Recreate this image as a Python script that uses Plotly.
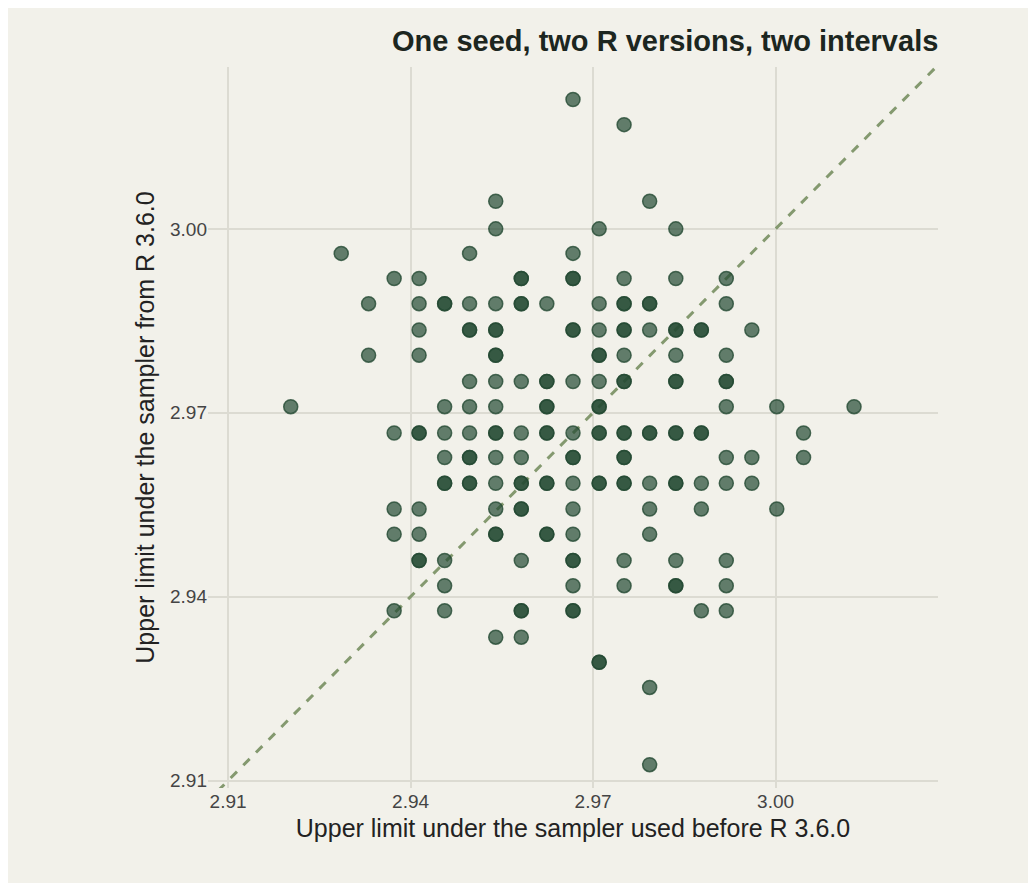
import plotly.graph_objects as go

# upper limits: one x value per column, y values in that column
# (a value listed twice is two overlapping points)
col_x = [2.9203, 2.9286, 2.9331, 2.9373, 2.9414, 2.9456, 2.9497, 2.9540, 2.9582, 2.9624, 2.9667,
         2.9710, 2.9751, 2.9793, 2.9836, 2.9878, 2.9919, 2.9961, 3.0002, 3.0046, 3.0129]
col_y = [
    [2.9710],
    [2.9960],
    [2.9878, 2.9794],
    [2.9919, 2.9667, 2.9543, 2.9502, 2.9377],
    [2.9919, 2.9878, 2.9835, 2.9794, 2.9667, 2.9667, 2.9543, 2.9502, 2.9459, 2.9459],
    [2.9878, 2.9878, 2.9710, 2.9667, 2.9627, 2.9585, 2.9585, 2.9459, 2.9418, 2.9377],
    [2.9960, 2.9878, 2.9835, 2.9835, 2.9751, 2.9710, 2.9667, 2.9627, 2.9627, 2.9585, 2.9585],
    [3.0045, 3.0000, 2.9878, 2.9835, 2.9835, 2.9794, 2.9794, 2.9751, 2.9710, 2.9667, 2.9667,
     2.9627, 2.9585, 2.9543, 2.9502, 2.9502, 2.9334],
    [2.9919, 2.9919, 2.9878, 2.9878, 2.9751, 2.9667, 2.9627, 2.9585, 2.9585, 2.9543, 2.9543,
     2.9459, 2.9377, 2.9377, 2.9334],
    [2.9878, 2.9751, 2.9751, 2.9710, 2.9710, 2.9667, 2.9667, 2.9585, 2.9585, 2.9502, 2.9502],
    [3.0211, 2.9960, 2.9919, 2.9919, 2.9835, 2.9835, 2.9751, 2.9667, 2.9627, 2.9627, 2.9585,
     2.9543, 2.9502, 2.9459, 2.9459, 2.9418, 2.9377, 2.9377],
    [3.0000, 2.9878, 2.9835, 2.9794, 2.9794, 2.9751, 2.9710, 2.9710, 2.9667, 2.9667, 2.9585,
     2.9585, 2.9293, 2.9293],
    [3.0170, 2.9919, 2.9878, 2.9878, 2.9835, 2.9835, 2.9794, 2.9751, 2.9751, 2.9667, 2.9667,
     2.9627, 2.9627, 2.9585, 2.9585, 2.9459, 2.9418],
    [3.0045, 2.9878, 2.9878, 2.9835, 2.9667, 2.9667, 2.9585, 2.9543, 2.9502, 2.9252, 2.9126],
    [3.0000, 2.9919, 2.9835, 2.9835, 2.9794, 2.9751, 2.9751, 2.9667, 2.9667, 2.9585, 2.9585,
     2.9459, 2.9418, 2.9418],
    [2.9835, 2.9835, 2.9667, 2.9667, 2.9585, 2.9543, 2.9377],
    [2.9919, 2.9878, 2.9794, 2.9751, 2.9751, 2.9710, 2.9627, 2.9585, 2.9459, 2.9418, 2.9377],
    [2.9835, 2.9627, 2.9585],
    [2.9710, 2.9543],
    [2.9667, 2.9627],
    [2.9710],
]
tick_vals = [2.91, 2.94, 2.97, 3.00]
tick_text = ["2.91", "2.94", "2.97", "3.00"]

xs, ys = [], []
for x, col in zip(col_x, col_y):
    for y in col:
        xs.append(x)
        ys.append(y)

bg = "#f2f1ea"
fig = go.Figure()
fig.add_trace(go.Scatter(x=[2.90, 3.03], y=[2.90, 3.03], mode="lines",
                         line=dict(color="#84996f", width=3, dash="dash"), hoverinfo="skip"))
fig.add_trace(go.Scatter(x=xs, y=ys, mode="markers",
                         marker=dict(size=14, color="rgba(36,74,51,0.7)",
                                     line=dict(color="rgba(36,74,51,0.8)", width=1.5))))

axis = dict(tickvals=tick_vals, ticktext=tick_text, showgrid=True, gridcolor="#dcdbd2",
            gridwidth=2, zeroline=False, showline=False, ticks="",
            tickfont=dict(size=19, color="#444444"))
fig.update_layout(
    width=1036, height=883, showlegend=False,
    paper_bgcolor=bg, plot_bgcolor=bg,
    font=dict(family="Liberation Sans, Arial, sans-serif", color="#222"),
    margin=dict(l=200, r=106, t=59, b=103),
    title=dict(text="<b>One seed, two R versions, two intervals</b>", x=0.898, xanchor="right",
               y=0.963, yanchor="middle", font=dict(size=29, color="#1c2620")),
    xaxis=dict(axis, range=[2.9067, 3.0267],
               title=dict(text="Upper limit under the sampler used before R 3.6.0", font=dict(size=25), standoff=8)),
    yaxis=dict(axis, range=[2.9088, 3.0264],
               title=dict(text="Upper limit under the sampler from R 3.6.0", font=dict(size=25), standoff=8)),
)
fig.write_html("out.html")
